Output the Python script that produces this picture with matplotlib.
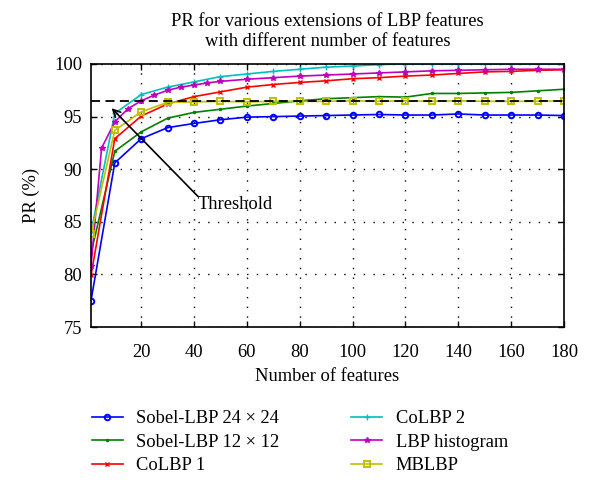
import numpy as np
from matplotlib import pyplot as plt

plt.rcParams['font.family'] = ['Liberation Serif', 'DejaVu Serif']
plt.rcParams['font.size'] = 13.3

x10 = [1, 10, 20, 30, 40, 50, 60, 70, 80, 90, 100, 110, 120, 130, 140, 150, 160, 170, 180]
x5 = [1, 5, 10, 15, 20, 25, 30, 35, 40, 45, 50, 60, 70, 80, 90, 100, 110, 120, 130, 140, 150, 160, 170, 180]

sobel24 = [77.5, 90.6, 92.9, 93.95, 94.35, 94.7, 94.95, 95.0, 95.05, 95.1, 95.15, 95.2, 95.15,
           95.15, 95.25, 95.15, 95.15, 95.15, 95.1]
sobel12 = [82.0, 91.7, 93.55, 94.85, 95.4, 95.7, 96.0, 96.25, 96.5, 96.7, 96.8, 96.9, 96.85,
           97.2, 97.2, 97.25, 97.3, 97.45, 97.6]
colbp1 = [79.9, 92.9, 95.05, 96.2, 96.9, 97.35, 97.8, 98.05, 98.25, 98.4, 98.6, 98.7, 98.85,
          98.95, 99.1, 99.25, 99.3, 99.4, 99.45]
colbp2 = [84.0, 95.3, 97.1, 97.8, 98.3, 98.8, 99.05, 99.3, 99.5, 99.7, 99.8, 99.95, 100.0,
          100.0, 100.0, 100.0, 100.0, 100.0, 100.0]
lbp_hist = [80.8, 92.0, 94.5, 95.75, 96.5, 97.05, 97.5, 97.8, 98.0, 98.2, 98.35, 98.55, 98.7,
            98.85, 98.95, 99.05, 99.15, 99.25, 99.35, 99.4, 99.45, 99.5, 99.5, 99.5]
mblbp = [83.8, 93.7, 95.45, 96.35, 96.4, 96.45, 96.4, 96.45, 96.45, 96.45, 96.5, 96.45, 96.5,
         96.45, 96.5, 96.45, 96.45, 96.45, 96.5]
threshold = 96.45

fig = plt.figure(figsize=(6, 4.92), dpi=100)
ax = fig.add_axes([91/600, 1-327/492, (564-91)/600, (327-64)/492])

ax.plot(x10, sobel24, color='#0000ff', marker='o', ms=4, mfc='none', mew=1.4, lw=1.2,
        label='Sobel-LBP 24 × 24')
ax.plot(x10, sobel12, color='#008000', marker='.', ms=3, lw=1.2, label='Sobel-LBP 12 × 12')
ax.plot(x10, colbp1, color='#ff0000', marker='x', ms=3.5, lw=1.2, label='CoLBP 1')
ax.plot(x10, colbp2, color='#00bfbf', marker='+', ms=4, lw=1.2, label='CoLBP 2')
ax.plot(x5, lbp_hist, color='#bf00bf', marker='*', ms=4, lw=1.2, label='LBP histogram')
ax.plot(x10, mblbp, color='#bfbf00', marker='s', ms=4, mfc='none', mew=1.4, lw=1.2,
        label='MBLBP')
ax.plot([1, 180], [threshold, threshold], color='black', ls='--', dashes=(5, 3), lw=1.3)

ax.annotate('Threshold', xy=(8.8, 95.8), xytext=(41.5, 86.6), va='center', ha='left',
            arrowprops=dict(arrowstyle='->', color='black', lw=1.2,
                            shrinkA=0, shrinkB=0, patchA=None,
                            relpos=(0, 1)))

ax.set_xlim(1, 180)
ax.set_ylim(75, 100)
ax.set_xticks(range(20, 181, 20))
ax.set_yticks(range(75, 101, 5))
ax.tick_params(direction='in', top=True, right=True, length=4, width=1)
ax.tick_params(axis='x', pad=12)
ax.tick_params(axis='y', pad=6.5)
ax.grid(True, color='black', ls=(0, (1, 6)), lw=1.0)
for s in ax.spines.values():
    s.set_linewidth(1.2)

ax.set_title('PR for various extensions of LBP features\nwith different number of features',
             fontsize=13.3, linespacing=1.2, pad=13)
ax.set_xlabel('Number of features', labelpad=5)
ax.set_ylabel('PR (%)', labelpad=10)

fig.legend(loc='upper left', bbox_to_anchor=(91.7/600, 1-410/492), ncol=2, frameon=False,
           handlelength=1.68, columnspacing=3.9, labelspacing=0.36, handletextpad=0.72,
           borderpad=0, borderaxespad=0)

fig.savefig('out.png', dpi=100)
